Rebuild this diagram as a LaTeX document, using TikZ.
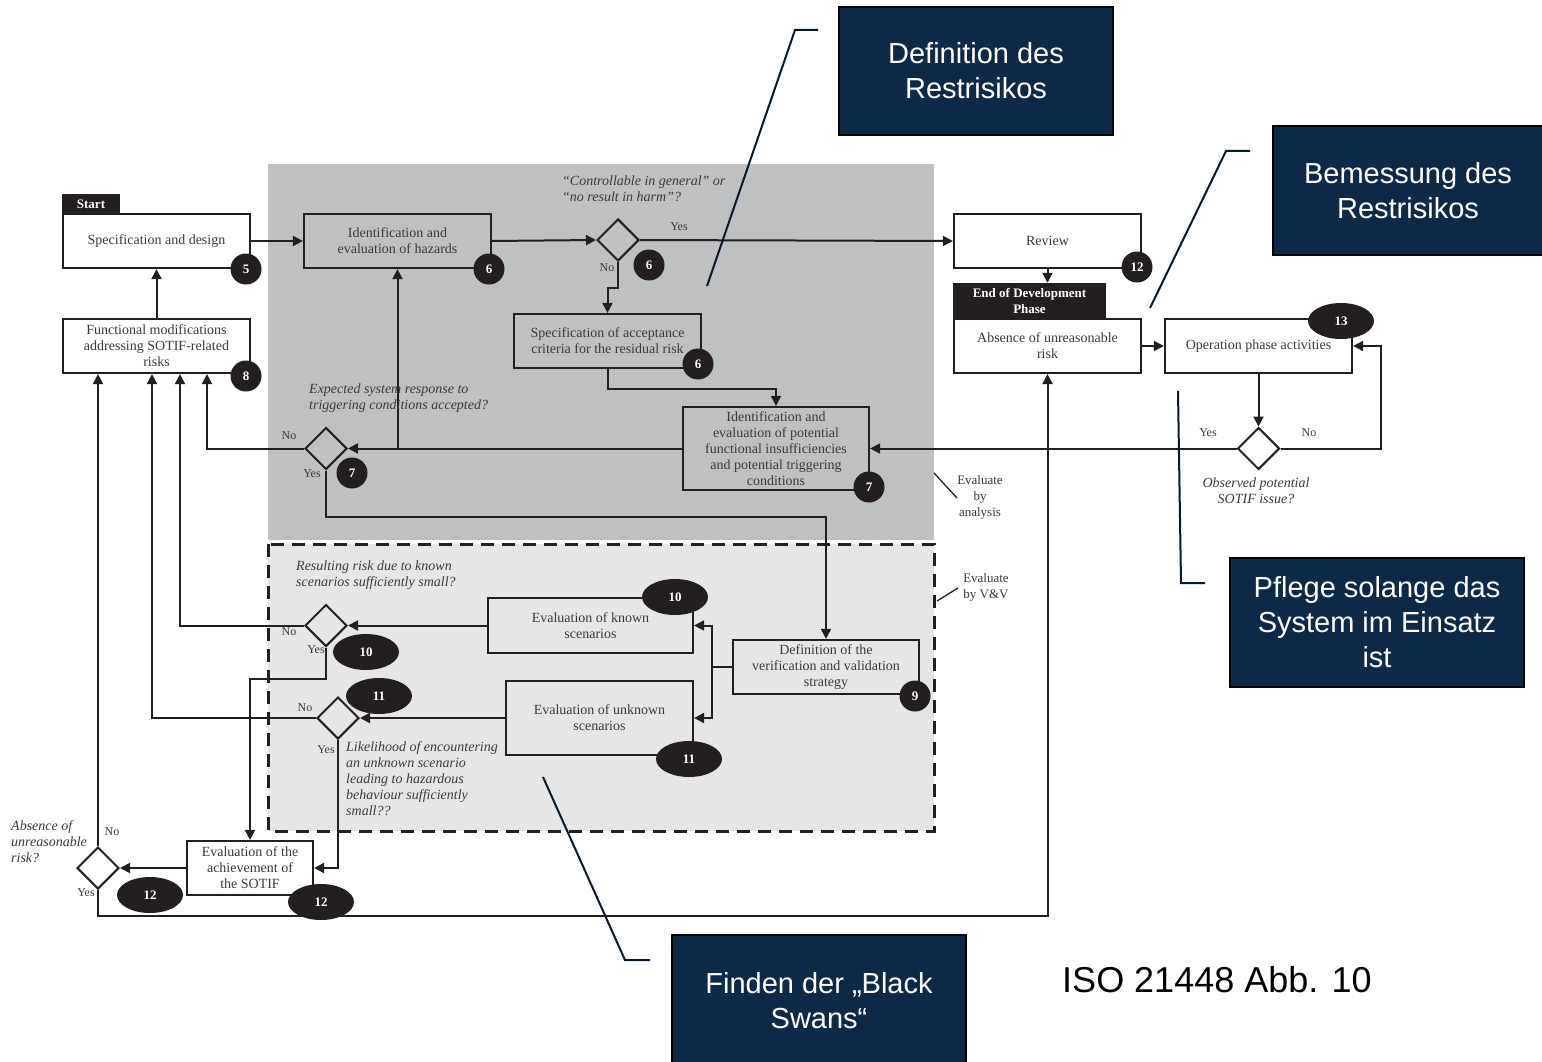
\documentclass[tikz,border=0pt]{standalone}
\usepackage{fontspec}
\setmainfont{Liberation Serif}
\newfontfamily\callfont{Liberation Sans}
\usetikzlibrary{shapes.geometric,arrows.meta}
\definecolor{navy}{HTML}{0C2A47}
\definecolor{darkbg}{HTML}{BFC0C2}
\definecolor{lightbg}{HTML}{E6E6E7}
\definecolor{ink}{HTML}{231F20}
\definecolor{txt}{HTML}{3A3A3A}
\begin{document}
\begin{tikzpicture}[x=1pt,y=-1pt,
  box/.style={draw=ink,line width=2.2pt,minimum width=187pt,minimum height=54pt,align=center,font=\fontsize{14}{16}\selectfont,text=txt,inner sep=1pt},
  tab/.style={fill=ink,text=white,font=\fontsize{13}{16}\selectfont\bfseries,align=center,inner sep=0pt},
  dia/.style={diamond,draw=ink,line width=2pt,minimum width=42pt,minimum height=42pt,inner sep=0pt},
  bc/.style={circle,fill=ink,minimum size=31pt,inner sep=0pt,text=white,font=\fontsize{13}{13}\selectfont\bfseries},
  be/.style={ellipse,fill=ink,minimum width=66pt,minimum height=36pt,inner sep=0pt,text=white,font=\fontsize{13}{13}\selectfont\bfseries},
  conn/.style={draw=ink,line width=2pt},
  arr/.style={conn,-{Triangle[length=10pt,width=10pt]}},
  yn/.style={font=\fontsize{12}{12}\selectfont,text=txt,inner sep=0pt},
  quest/.style={font=\fontsize{14}{16}\selectfont\itshape,text=txt,inner sep=0pt,align=left,anchor=north west},
  side/.style={font=\fontsize{13}{16}\selectfont,text=txt,inner sep=0pt,align=center},
  callout/.style={draw=black,line width=1.5pt,fill=navy,text=white,align=center,font=\callfont\fontsize{29}{35}\selectfont},
  lead/.style={draw=navy!60!black,line width=2pt}
]
\useasboundingbox (0,0) rectangle (1542,1062);
\fill[white] (0,0) rectangle (1542,1062);

% regions
\fill[darkbg] (268,164) rectangle (934,540);
\filldraw[fill=lightbg,draw=ink,line width=3pt,dash pattern=on 13pt off 8pt] (268,544) rectangle (934,831);

% boxes
\node[tab,minimum width=58pt,minimum height=20pt] (start) at (91,204) {Start};
\node[box] (spec) at (156.5,241) {Specification and design};
\node[box] (func) at (156.5,346) {Functional modifications\\addressing SOTIF-related\\risks};
\node[box] (haz) at (397.5,241) {Identification and\\evaluation of hazards};
\node[box] (acc) at (607.5,341) {Specification of acceptance\\criteria for the residual risk};
\node[box,minimum width=186pt,minimum height=83pt] (idpot) at (776,448.5) {Identification and\\evaluation of potential\\functional insufficiencies\\and potential triggering\\conditions};
\node[box] (review) at (1047.5,241) {Review};
\node[tab,minimum width=153pt,minimum height=35pt] (eod) at (1029.5,300.5) {End of Development\\Phase};
\node[box] (absence) at (1047.5,346) {Absence of unreasonable\\risk};
\node[box] (oper) at (1258.5,346) {Operation phase activities};
\node[box,minimum width=205pt,minimum height=55pt] (known) at (590.5,625.5) {Evaluation of known\\scenarios};
\node[box,minimum height=74pt] (unknown) at (599.5,718) {Evaluation of unknown\\scenarios};
\node[box,minimum width=186pt] (vv) at (826,667) {Definition of the\\verification and validation\\strategy};
\node[box,minimum width=126pt] (achieve) at (250,868) {Evaluation of the\\achievement of\\the SOTIF};

% diamonds
\node[dia] (d1) at (618,240) {};
\node[dia] (d2) at (326,448.5) {};
\node[dia] (d3) at (1258.5,448.5) {};
\node[dia] (d4) at (326,625.5) {};
\node[dia] (d5) at (338,718) {};
\node[dia] (d6) at (98,868) {};

% connectors
\draw[arr] (spec.east) -- (haz.west);
\draw[arr] (func.north) -- (spec.south);
\draw[arr] (haz.east) -- (d1.west);
\draw[arr] (d1.east) -- (review.west);
\draw[arr] (d1.south) -- ++(0,26) -| (acc.north);
\draw[arr] (acc.south) -- ++(0,20) -| (idpot.north);
\draw[arr] (idpot.west) -- (d2.east);
\draw[arr] (haz.south |- idpot.west) -- (haz.south);
\draw[arr] (d2.west) -| ([xshift=50.5pt]func.south);
\draw[arr] (d2.south) -- ++(0,46) -| (vv.north);
\draw[conn] (vv.west) -- ++(-20,0) coordinate (br);
\draw[arr] (br) |- (known.east);
\draw[arr] (br) |- (unknown.east);
\draw[arr] (known.west) -- (d4.east);
\draw[arr] (d4.west) -| ([xshift=23.5pt]func.south);
\draw[arr] (d4.south) -- ++(0,31) -| (achieve.north);
\draw[arr] (unknown.west) -- (d5.east);
\draw[arr] (d5.west) -| ([xshift=-4.5pt]func.south);
\draw[arr] (d5.south) |- (achieve.east);
\draw[arr] (achieve.west) -- (d6.east);
\draw[arr] (d6.north) -- (d6.north |- func.south);
\draw[arr] (d6.south) -- ++(0,26) -| (absence.south);
\draw[arr] (review.south) -- (review.south |- eod.north);
\draw[arr] (absence.east) -- (oper.west);
\draw[arr] (oper.south) -- (d3.north);
\draw[arr] (d3.east) -- ++(100,0) |- (oper.east);
\draw[arr] (d3.west) -- (idpot.east);

% badges
\node[bc] (b5) at (246,269) {5};
\node[bc] (b8) at (246,376) {8};
\node[bc] (b6a) at (489,269) {6};
\node[bc] (b6b) at (649,265) {6};
\node[bc] (b6c) at (698,364) {6};
\node[bc] (b7a) at (869,487) {7};
\node[bc] (b7b) at (352,473) {7};
\node[bc] (b12a) at (1137,267) {12};
\node[be] (b13) at (1341,321) {13};
\node[be] (b10a) at (675,597) {10};
\node[be] (b11a) at (689,759) {11};
\node[bc] (b9) at (915,696) {9};
\node[be] (b10b) at (366,652) {10};
\node[be] (b11b) at (379,696) {11};
\node[be] (b12b) at (150,895) {12};
\node[be] (b12c) at (321,902) {12};

% yes/no labels
\node[yn] (y1) at (679,227) {Yes};
\node[yn] (n1) at (607,268) {No};
\node[yn] (n2) at (289,436) {No};
\node[yn] (y2) at (312,474) {Yes};
\node[yn] (y3) at (1208,433) {Yes};
\node[yn] (n3) at (1309,433) {No};
\node[yn] (n4) at (289,632) {No};
\node[yn] (y4) at (316,650) {Yes};
\node[yn] (n5) at (305,708) {No};
\node[yn] (y5) at (326,750) {Yes};
\node[yn] (n6) at (112,832) {No};
\node[yn] (y6) at (86,893) {Yes};

% questions
\node[quest] (q1) at (562,176) {“Controllable in general” or\\“no result in harm”?};
\node[quest] (q2) at (309,384) {Expected system response to\\triggering conditions accepted?};
\node[quest] (q4) at (296,561) {Resulting risk due to known\\scenarios sufficiently small?};
\node[quest] (q5) at (346,741) {Likelihood of encountering\\an unknown scenario\\leading to hazardous\\behaviour sufficiently\\small??};
\node[quest] (q6) at (11,820) {Absence of\\unreasonable\\risk?};
\node[quest,align=center,anchor=north] (q3) at (1256,478) {Observed potential\\SOTIF issue?};

% side notes
\node[side] (ea) at (980,497) {Evaluate\\by\\analysis};
\coordinate (ea1) at (934,473);
\draw[conn,line width=1.3pt] (ea1) -- (957,498);
\node[side] (ev) at (986,587) {Evaluate\\by V\&V};
\coordinate (ev1) at (937,601);
\draw[conn,line width=1.3pt] (ev1) -- (958,588);

% callouts
\coordinate (l1) at (707,286);
\draw[lead] (818,30) -- (795,30) -- (l1);
\coordinate (l2) at (1150,308);
\draw[lead] (1250,151) -- (1226,151) -- (l2);
\coordinate (l3) at (1178,391);
\draw[lead] (1205,583) -- (1181,583) -- (l3);
\coordinate (l4) at (543,777);
\draw[lead] (650,960) -- (625,960) -- (l4);

\node[callout,minimum width=274pt,minimum height=128pt] (c1) at (976,71) {Definition des\\Restrisikos};
\node[callout,minimum width=270pt,minimum height=129pt] (c2) at (1408,190.5) {Bemessung des\\Restrisikos};
\node[callout,minimum width=294pt,minimum height=129pt] (c3) at (1377,622.5) {Pflege solange das\\System im Einsatz\\ist};
\node[callout,minimum width=294pt,minimum height=132pt] (c4) at (819,1001) {Finden der „Black\\Swans“};
\node[font=\callfont\fontsize{36}{36}\selectfont,inner sep=0pt] (iso) at (1217,980) {ISO 21448 Abb. 10};
\end{tikzpicture}
\end{document}
